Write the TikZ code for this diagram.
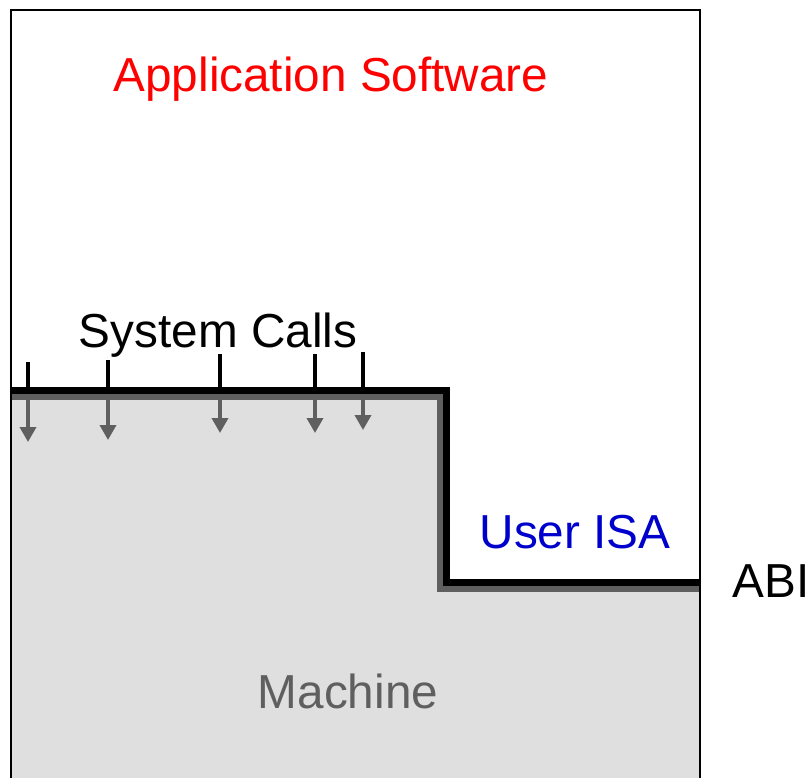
\documentclass[tikz,border=0pt]{standalone}
\usepackage{fontspec}
\setmainfont{Liberation Sans}
\usetikzlibrary{arrows.meta}
\definecolor{machfill}{HTML}{DFDFDF}
\definecolor{machgray}{HTML}{5F5F5F}
\definecolor{isablue}{HTML}{0000CC}
\begin{document}
\begin{tikzpicture}[x=1pt,y=-1pt,
  lbl/.style={anchor=base,inner sep=0pt,font=\fontsize{47.7}{56}\selectfont},
  tick/.style={line width=3.5pt,black},
  callarrow/.style={line width=3.5pt,machgray,-{Triangle[width=16pt,length=15pt]}}]
\useasboundingbox (0,0) rectangle (811,777);
\clip (0,0) rectangle (811,777);
% machine region
\fill[machfill] (11,396.5) -- (440.5,396.5) -- (440.5,588.5) -- (700,588.5) -- (700,800) -- (11,800) -- cycle;
\draw[machgray,line width=7pt] (11,396.5) -- (440.5,396.5) -- (440.5,588.5) -- (700,588.5);
% ABI black boundary
\draw[black,line width=6.5pt] (11,390.5) -- (446.5,390.5) -- (446.5,582.5) -- (700,582.5);
% outer frame
\draw[black,line width=2.5pt] (11,800) -- (11,10) -- (700,10) -- (700,800);
% system call ticks and arrows
\foreach \x/\t/\b in {28/362/442,108/360/440,220/354/433,315/354/433,363/352/430}{
  \coordinate (t\x) at (\x,\t);
  \coordinate (u\x) at (\x,390);
  \coordinate (a\x) at (\x,398);
  \coordinate (b\x) at (\x,\b);
  \draw[tick] (t\x) -- (u\x);
  \draw[callarrow] (a\x) -- (b\x);
}
% labels
\node[lbl,text=red] (app) at (331,91) {Application Software};
\node[lbl,text=black] (sys) at (218,347) {System Calls};
\node[lbl,text=isablue] (isa) at (575,548) {User ISA};
\node[lbl,text=black] (abi) at (771,597) {ABI};
\node[lbl,text=machgray] (mach) at (348,708) {Machine};
\end{tikzpicture}
\end{document}
